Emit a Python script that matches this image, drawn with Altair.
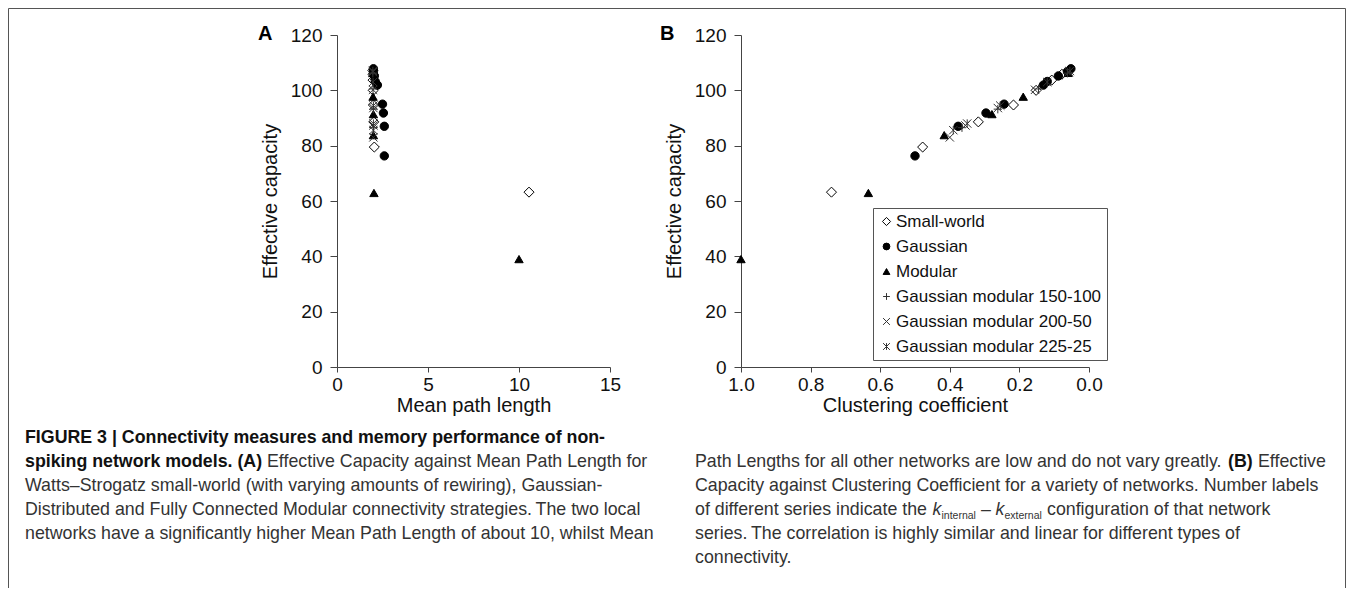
import altair as alt
import pandas as pd

# ---------------- data ----------------
SERIES = ["Small-world", "Gaussian", "Modular",
          "Gaussian modular 150-100", "Gaussian modular 200-50", "Gaussian modular 225-25"]

# Watts-Strogatz small-world
sw_capacity = [63.2, 79.5, 88.6, 94.7, 100.0, 103.7, 105.8, 107.2]
sw_path     = [10.55, 2.05, 2.02, 2.0, 1.99, 1.98, 1.98, 1.97]
sw_cluster  = [0.74, 0.478, 0.318, 0.217, 0.152, 0.107, 0.078, 0.058]

# Gaussian
ga_capacity = [76.3, 87.0, 91.8, 95.0, 101.9, 103.2, 105.2, 106.8, 107.8]
ga_path     = [2.6, 2.6, 2.55, 2.5, 2.22, 2.1, 2.05, 2.0, 2.0]
ga_cluster  = [0.5, 0.376, 0.296, 0.244, 0.131, 0.12, 0.088, 0.062, 0.052]

# Fully connected modular
mo_capacity = [39.0, 62.9, 83.8, 91.4, 97.7, 106.3]
mo_path     = [10.0, 2.03, 2.0, 2.0, 1.98, 1.97]
mo_cluster  = [1.0, 0.634, 0.416, 0.279, 0.189, 0.06]

# Gaussian modular 150-100
g1_capacity = [86.5, 93.2, 100.5, 106.2]
g1_path     = [2.0, 2.0, 1.98, 1.97]
g1_cluster  = [0.365, 0.262, 0.145, 0.062]

# Gaussian modular 200-50
g2_capacity = [83.0, 87.3, 93.6, 100.2, 106.6]
g2_path     = [2.0, 2.0, 2.0, 1.98, 1.97]
g2_cluster  = [0.40, 0.355, 0.262, 0.155, 0.058]

# Gaussian modular 225-25
g3_capacity = [85.6, 88.0, 94.5, 103.0, 107.0]
g3_path     = [2.0, 2.0, 2.0, 1.98, 1.97]
g3_cluster  = [0.39, 0.35, 0.255, 0.12, 0.055]

X_TICKS_A = [0, 5, 10, 15]
X_TICKS_B = [0.0, 0.2, 0.4, 0.6, 0.8, 1.0]
Y_TICKS = [0, 20, 40, 60, 80, 100, 120]

rows = []
for name, cap, path, clu in [
    (SERIES[0], sw_capacity, sw_path, sw_cluster),
    (SERIES[1], ga_capacity, ga_path, ga_cluster),
    (SERIES[2], mo_capacity, mo_path, mo_cluster),
    (SERIES[3], g1_capacity, g1_path, g1_cluster),
    (SERIES[4], g2_capacity, g2_path, g2_cluster),
    (SERIES[5], g3_capacity, g3_path, g3_cluster),
]:
    for c, p, k in zip(cap, path, clu):
        rows.append({"series": name, "capacity": c, "path": p, "cluster": k})
df = pd.DataFrame(rows)

# ---------------- layout ----------------
W, H = 1338, 580
AX_L, AX_R = 329, 602      # panel A plot range (x)
BX_L, BX_R = 733, 1081     # panel B plot range (x)
Y_BOT, Y_TOP = 359, 27     # shared vertical range

FONT = "Liberation Sans"
CAP_FONT = "Liberation Sans"
CAP_SIZE = 17.8

SHAPES = ["M0,-1.2L1.2,0L0,1.2L-1.2,0Z",
          "circle", "triangle-up",
          "M-1,0L1,0M0,-1L0,1",
          "M-1,-1L1,1M-1,1L1,-1",
          "M-1,-1L1,1M-1,1L1,-1M0,-1L0,1"]
FILLS = ["white", "black", "black", "black", "black", "black"]
STROKES = ["black", "black", "black", "#333", "#333", "#333"]

legend = alt.Legend(title=None, orient="none", legendX=865, legendY=200,
                    strokeColor="#555", fillColor="white", padding=5,
                    labelFont=FONT, labelFontSize=17, labelColor="#111", labelLimit=400,
                    symbolSize=46, symbolStrokeWidth=1,
                    rowPadding=7, labelOffset=1)

shape_enc = alt.Shape("series:N", scale=alt.Scale(domain=SERIES, range=SHAPES), legend=legend)
fill_enc = alt.Fill("series:N", scale=alt.Scale(domain=SERIES, range=FILLS), legend=legend)
stroke_enc = alt.Stroke("series:N", scale=alt.Scale(domain=SERIES, range=STROKES), legend=legend)

axis_style = dict(grid=False, domainColor="#444", tickColor="#444", labelColor="#111",
                  titleColor="#111", labelFont=FONT, titleFont=FONT, labelFontSize=19,
                  titleFontSize=20, titleFontWeight="normal", labelFlush=False)

point_mark = dict(filled=True, strokeWidth=1, opacity=1, size=70)

panel_a = alt.Chart(df).mark_point(**point_mark).encode(
    x=alt.X("path:Q",
            scale=alt.Scale(domain=[0, 15], range=[AX_L, AX_R], nice=False, zero=False),
            axis=alt.Axis(orient="bottom", offset=Y_BOT - H, values=X_TICKS_A, format="d",
                          tickSize=5, labelPadding=3, titlePadding=1,
                          title="Mean path length", **axis_style)),
    y=alt.Y("capacity:Q",
            scale=alt.Scale(domain=[0, 120], range=[Y_BOT, Y_TOP], nice=False),
            axis=alt.Axis(orient="left", offset=-AX_L, values=Y_TICKS, format="d",
                          tickSize=7, labelPadding=8, titlePadding=10,
                          title="Effective capacity", **axis_style)),
    shape=shape_enc, fill=fill_enc, stroke=stroke_enc,
)

panel_b = alt.Chart(df).mark_point(**point_mark).encode(
    x=alt.X("cluster:Q",
            scale=alt.Scale(domain=[0, 1], range=[BX_R, BX_L], nice=False, zero=False),
            axis=alt.Axis(orient="bottom", offset=Y_BOT - H, values=X_TICKS_B, format=".1f",
                          tickSize=5, labelPadding=3, titlePadding=1,
                          title="Clustering coefficient", **axis_style)),
    y=alt.Y("capacity:Q",
            scale=alt.Scale(domain=[0, 120], range=[Y_BOT, Y_TOP], nice=False),
            axis=alt.Axis(orient="left", offset=-BX_L, values=Y_TICKS, format="d",
                          tickSize=7, labelPadding=8, titlePadding=10,
                          title="Effective capacity", **axis_style)),
    shape=shape_enc, fill=fill_enc, stroke=stroke_enc,
)

# ---------------- annotations ----------------
def text_layer(tx, xs, ys, font, size, weight="normal", style="normal", color="#111"):
    d = pd.DataFrame({"t": tx, "px": xs, "py": ys})
    return alt.Chart(d).mark_text(align="left", baseline="middle", font=font, fontSize=size,
                                  fontWeight=weight, fontStyle=style, color=color).encode(
        x=alt.X("px:Q", scale=None, axis=None),
        y=alt.Y("py:Q", scale=None, axis=None),
        text="t:N")

panel_letters = text_layer(["A", "B"], [250, 652], [26, 26], FONT, 20, weight="bold", color="black")

bold_caption = text_layer(
    ["FIGURE 3 | Connectivity measures and memory performance of non-",
     "spiking network models. (A)", "(B)"],
    [17, 17, 1220], [430, 454, 454], CAP_FONT, CAP_SIZE, weight="bold", color="#111")

regular_caption = text_layer(
    ["Effective Capacity against Mean Path Length for",
     "Watts\u2013Strogatz small-world (with varying amounts of rewiring), Gaussian-",
     "Distributed and Fully Connected Modular connectivity strategies.\u2009The two local",
     "networks have a significantly higher Mean Path Length of about 10, whilst Mean",
     "Path Lengths for all other networks are low and do not vary greatly.",
     "Effective",
     "Capacity against Clustering Coefficient for a variety of networks. Number labels",
     "of different series indicate the",
     "\u2013",
     "configuration of that network",
     "series.\u2009The correlation is highly similar and linear for different types of",
     "connectivity."],
    [259, 17, 17, 17, 687, 1250, 687, 687, 973, 1039, 687, 687],
    [454, 478, 502, 526, 454, 454, 478, 502, 502, 502, 526, 550],
    CAP_FONT, CAP_SIZE, color="#333")

italic_caption = text_layer(["k", "k"], [924.5, 987.5], [502, 502], CAP_FONT, CAP_SIZE,
                            style="italic", color="#333")
sub_caption = text_layer(["internal", "external"], [933.5, 996.5], [508, 508], CAP_FONT, 10.5,
                         color="#333")

frame_df = pd.DataFrame({"x": [0.5, 0.5, W - 0.5], "x2": [W - 0.5, 0.5, W - 0.5],
                         "y": [0.5, 0.5, 0.5], "y2": [0.5, H, H]})
frame = alt.Chart(frame_df).mark_rule(color="#555", strokeWidth=1).encode(
    x=alt.X("x:Q", scale=None, axis=None), x2="x2:Q",
    y=alt.Y("y:Q", scale=None, axis=None), y2="y2:Q")

chart = alt.layer(
    frame, panel_a, panel_b, panel_letters,
    bold_caption, regular_caption, italic_caption, sub_caption
).resolve_scale(
    x="independent", y="independent"
).resolve_axis(
    x="independent", y="independent"
).properties(
    width=W, height=H, padding=0, background="white"
).configure_view(stroke=None)

chart.save("out.html", embed_options={"renderer": "svg", "actions": False})
